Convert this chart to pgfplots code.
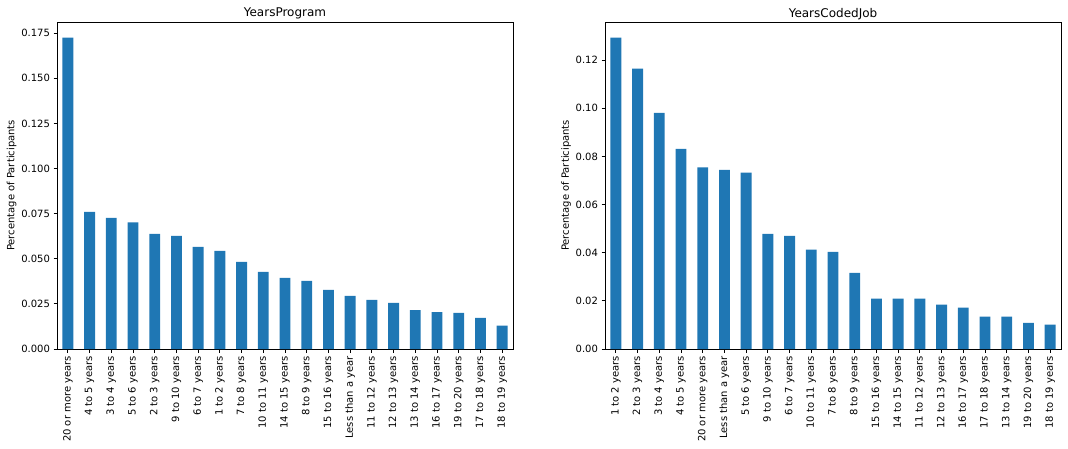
\documentclass[border=0pt]{standalone}
\usepackage{pgfplots}
\pgfplotsset{compat=1.18}
\usepackage{fontspec}
\setmainfont{DejaVu Sans}
\definecolor{mplblue}{HTML}{1F77B4}
\pgfplotstableread{
x v
0 0.1726
1 0.0760
2 0.0727
3 0.0701
4 0.0638
5 0.0627
6 0.0566
7 0.0544
8 0.0483
9 0.0427
10 0.0394
11 0.0377
12 0.0327
13 0.0294
14 0.0272
15 0.0255
16 0.0216
17 0.0205
18 0.0200
19 0.0172
20 0.0129
}\leftdata
\pgfplotstableread{
x v
0 0.1293
1 0.1164
2 0.0981
3 0.0831
4 0.0754
5 0.0744
6 0.0732
7 0.0478
8 0.0470
9 0.0413
10 0.0403
11 0.0316
12 0.0209
13 0.0209
14 0.0209
15 0.0184
16 0.0172
17 0.0134
18 0.0134
19 0.0109
20 0.0101
}\rightdata
\pgfplotsset{
  myaxis/.style={
    scale only axis, width=456pt, height=327pt,
    anchor=south west,
    xmin=-0.5, xmax=20.5, ymin=0,
    xtick=data,
    tick align=outside, tick pos=left,
    major tick length=3.5pt,
    every tick/.style={black, line width=0.8pt},
    axis line style={line width=0.8pt},
    x tick label style={rotate=90, anchor=east, font=\fontsize{10}{12}\selectfont},
    y tick label style={font=\fontsize{10}{12}\selectfont},
    /pgf/number format/assume math mode=true,
    /pgf/number format/fixed, /pgf/number format/fixed zerofill,
    scaled y ticks=false,
    ylabel={Percentage of Participants},
    ylabel style={xshift=0pt, yshift=-2pt},
    label style={font=\fontsize{10}{12}\selectfont},
    title style={font=\fontsize{12}{14}\selectfont, yshift=-7pt},
  }
}
\begin{document}
\begin{tikzpicture}
\useasboundingbox (0pt,0pt) rectangle (1068pt,448pt);
\begin{axis}[myaxis, at={(57pt,99pt)},
  ymax=0.1812,
  ytick={0,0.025,0.05,0.075,0.1,0.125,0.15,0.175},
  /pgf/number format/precision=3,
  xticklabels={20 or more years,4 to 5 years,3 to 4 years,5 to 6 years,2 to 3 years,9 to 10 years,6 to 7 years,1 to 2 years,7 to 8 years,10 to 11 years,14 to 15 years,8 to 9 years,15 to 16 years,Less than a year,11 to 12 years,12 to 13 years,13 to 14 years,16 to 17 years,19 to 20 years,17 to 18 years,18 to 19 years},
  title={YearsProgram}]
\addplot[ybar, bar width=0.5, fill=mplblue, draw=none] table[x=x,y=v] {\leftdata};
\end{axis}
\begin{axis}[myaxis, at={(605pt,99pt)},
  ymax=0.1358,
  ytick={0,0.02,0.04,0.06,0.08,0.1,0.12},
  /pgf/number format/precision=2,
  xticklabels={1 to 2 years,2 to 3 years,3 to 4 years,4 to 5 years,20 or more years,Less than a year,5 to 6 years,9 to 10 years,6 to 7 years,10 to 11 years,7 to 8 years,8 to 9 years,15 to 16 years,14 to 15 years,11 to 12 years,12 to 13 years,16 to 17 years,17 to 18 years,13 to 14 years,19 to 20 years,18 to 19 years},
  title={YearsCodedJob}]
\addplot[ybar, bar width=0.5, fill=mplblue, draw=none] table[x=x,y=v] {\rightdata};
\end{axis}
\end{tikzpicture}
\end{document}
